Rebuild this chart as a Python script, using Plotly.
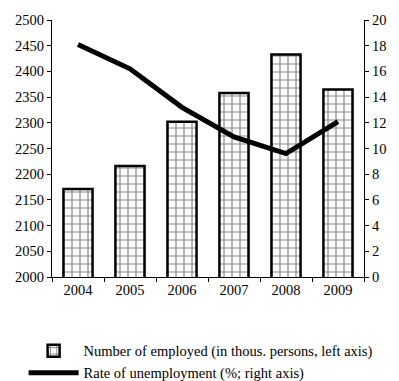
import plotly.graph_objects as go

years = ["2004", "2005", "2006", "2007", "2008", "2009"]
employed = [2171, 2216, 2302, 2358, 2433, 2365]
unemployment = [18.1, 16.2, 13.2, 10.9, 9.6, 12.1]

FONT = "Liberation Serif, Times New Roman, serif"

fig = go.Figure()
fig.add_trace(go.Bar(
    x=years, y=employed, name="Number of employed (in thous. persons, left axis)",
    width=0.56,
    marker=dict(color="white", line=dict(color="black", width=2.5),
                pattern=dict(shape="+", fgcolor="#111", bgcolor="white", size=8, solidity=0.28)),
))
fig.add_trace(go.Scatter(
    x=years, y=unemployment, yaxis="y2", mode="lines",
    name="Rate of unemployment (%; right axis)",
    line=dict(color="black", width=5),
))

axis_common = dict(showgrid=False, zeroline=False, showline=True, linecolor="black", linewidth=1,
                   ticks="outside", ticklen=4, tickcolor="black", tickwidth=1,
                   tickfont=dict(family=FONT, size=14.5, color="black"))

fig.update_layout(
    width=399, height=381,
    margin=dict(l=52, r=26, t=17, b=104),
    paper_bgcolor="white", plot_bgcolor="white",
    font=dict(family=FONT, size=14.5, color="black"),
    showlegend=True,
    legend=dict(x=-0.091, y=0.121, xref="paper", yref="container", xanchor="left", yanchor="top",
                orientation="v",
                font=dict(family=FONT, size=14.5, color="black"), itemwidth=50,
                tracegroupgap=0, bgcolor="rgba(0,0,0,0)"),
    xaxis=dict(type="category", tickson="boundaries", **axis_common),
    yaxis=dict(range=[2000, 2500], tickvals=list(range(2000, 2501, 50)), **axis_common),
    yaxis2=dict(range=[0, 20], tickvals=list(range(0, 21, 2)), overlaying="y", side="right",
                **axis_common),
    yaxis3=dict(range=[2000, 2500], tickvals=list(range(2000, 2501, 50)), overlaying="y",
                showgrid=False, zeroline=False, showline=False, ticks="inside", ticklen=4,
                tickcolor="black", showticklabels=False),
    yaxis4=dict(range=[0, 20], tickvals=list(range(0, 21, 2)), overlaying="y", side="right",
                showgrid=False, zeroline=False, showline=False, ticks="inside", ticklen=4,
                tickcolor="black", showticklabels=False),
    xaxis2=dict(range=[-0.5, 5.5], tickvals=[-0.5, 0.5, 1.5, 2.5, 3.5, 4.5, 5.5], overlaying="x",
                showgrid=False, zeroline=False, showline=False, ticks="inside", ticklen=4,
                tickcolor="black", showticklabels=False),
)

fig.write_html("out.html")
